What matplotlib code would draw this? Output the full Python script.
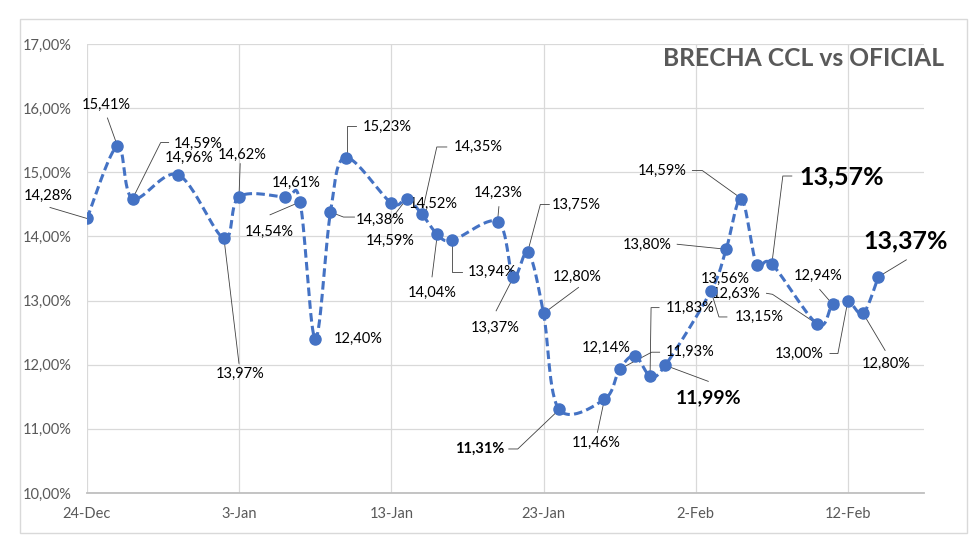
import numpy as np
import pandas as pd
import matplotlib
matplotlib.use('Agg')
import matplotlib.pyplot as plt
import matplotlib.dates as mdates
from matplotlib.ticker import FuncFormatter, MultipleLocator
from matplotlib.patches import Rectangle

plt.rcParams['font.family'] = ['Lato', 'DejaVu Sans']

# datos: brecha CCL vs oficial (%)
fechas = ['2024-12-24', '2024-12-26', '2024-12-27', '2024-12-30', '2025-01-02', '2025-01-03',
          '2025-01-06', '2025-01-07', '2025-01-08', '2025-01-09', '2025-01-10', '2025-01-13',
          '2025-01-14', '2025-01-15', '2025-01-16', '2025-01-17', '2025-01-20', '2025-01-21',
          '2025-01-22', '2025-01-23', '2025-01-24', '2025-01-27', '2025-01-28', '2025-01-29',
          '2025-01-30', '2025-01-31', '2025-02-03', '2025-02-04', '2025-02-05', '2025-02-06',
          '2025-02-07', '2025-02-10', '2025-02-11', '2025-02-12', '2025-02-13', '2025-02-14']
brecha = [14.28, 15.41, 14.59, 14.96, 13.97, 14.62,
          14.61, 14.54, 12.40, 14.38, 15.23, 14.52,
          14.59, 14.35, 14.04, 13.94, 14.23, 13.37,
          13.75, 12.80, 11.31, 11.46, 11.93, 12.14,
          11.83, 11.99, 13.15, 13.80, 14.59, 13.56,
          13.57, 12.63, 12.94, 13.00, 12.80, 13.37]
titulo = 'BRECHA CCL vs OFICIAL'

# posicion de etiquetas (offset en pixeles desde el punto) y lineas guia
label_off = [(-39, 23), (-11, 41), (66, 55), (11, 17), (16, -136), (3, 42),
             (11, 14), (-31, -30), (43, 0), (50, -8), (42, 31), (42, -1),
             (-16, -42), (56, 67), (-5, -59), (40, -32), (0, 29), (-18, -51),
             (48, 48), (34, 37), (-79, -40), (-8, -44), (70, 17), (-29, 8),
             (40, 68), (43, -32), (48, -26), (-79, 4), (-79, 28), (-31, -14),
             (70, 87), (-81, 30), (-15, 29), (-49, -53), (23, -50), (27, 36)]
leaders = {0: [(-37, 11), (0, 0)], 1: [(-10, 28), (0, 0)], 2: [(36, 56), (28, 56), (0, 0)],
           4: [(0, 0), (15, -125)], 5: [(1, 33), (0, 5)], 7: [(-30, -13), (-2, -1)],
           9: [(0, 0), (13, -5), (24, -5)], 10: [(1, 5), (1, 32), (10, 32)],
           12: [(-2, -3), (-15, -20)], 13: [(0, 0), (15, 67), (25, 67)],
           14: [(0, -3), (-5, -43)], 15: [(0, -3), (0, -32), (10, -32)],
           16: [(1, 15), (0, 4)], 17: [(0, -1), (-17, -34)], 18: [(0, 3), (12, 48), (21, 48)],
           19: [(0, 0), (35, 26)], 20: [(0, -1), (-41, -40), (-50, -40)],
           21: [(0, 0), (-7, -33)], 22: [(0, 0), (32, 17), (40, 17)],
           24: [(0, 0), (1, 68), (9, 68)], 25: [(0, 0), (43, -16)],
           26: [(0, 0), (8, -26), (16, -26)], 27: [(-49, 5), (0, 0)],
           28: [(-49, 28), (-39, 28), (0, 0)], 30: [(0, 0), (11, 88), (20, 88)],
           31: [(-51, 31), (-45, 30), (0, 0)], 32: [(-13, 15), (0, 0)],
           33: [(-18, -53), (-10, -53), (0, 0)], 34: [(22, -37), (0, 0)],
           35: [(28, 17), (0, 0)]}
# etiquetas destacadas (tamano, negrita)
destacadas = {20: 10.5, 25: 14, 30: 18, 35: 18}

azul = '#4472C4'
gris = '#595959'

x = mdates.date2num(pd.to_datetime(fechas))
y = np.array(brecha)

fig = plt.figure(figsize=(9.8, 5.54), dpi=100)
ax = fig.add_axes([87/980, 1-493/554, (924-87)/980, (493-44)/554])

ax.set_xlim(mdates.date2num(pd.Timestamp('2024-12-24')), mdates.date2num(pd.Timestamp('2025-02-17')))
ax.set_ylim(10, 17)
ax.yaxis.set_major_locator(MultipleLocator(1))
ax.yaxis.set_major_formatter(FuncFormatter(lambda v, p: f'{v:.2f}%'.replace('.', ',')))
ticks = mdates.date2num(pd.date_range('2024-12-24', '2025-02-17', freq='10D'))
ax.set_xticks(ticks)
ax.xaxis.set_major_formatter(mdates.DateFormatter('%-d-%b'))

ax.grid(True, color='#D9D9D9', lw=0.9)
ax.set_axisbelow(True)
for s in ['top', 'right', 'left']:
    ax.spines[s].set_visible(False)
ax.spines['bottom'].set_color('#BFBFBF')
ax.spines['bottom'].set_linewidth(1.3)
ax.tick_params(length=0, labelsize=10.5, labelcolor=gris)
ax.tick_params(axis='y', pad=11)
ax.tick_params(axis='x', pad=10)

# linea suavizada (bezier tipo Excel) en coordenadas de pantalla
pts = ax.transData.transform(np.column_stack([x, y]))
curva = []
n = len(pts)
for i in range(n - 1):
    p0 = pts[max(i - 1, 0)]
    p1 = pts[i]
    p2 = pts[i + 1]
    p3 = pts[min(i + 2, n - 1)]
    c1 = p1 + (p2 - p0) / 6
    c2 = p2 - (p3 - p1) / 6
    t = np.linspace(0, 1, 30)[:, None]
    seg = (1-t)**3*p1 + 3*(1-t)**2*t*c1 + 3*(1-t)*t**2*c2 + t**3*p2
    curva.append(seg)
curva = ax.transData.inverted().transform(np.vstack(curva))
ax.plot(curva[:, 0], curva[:, 1], color=azul, lw=2.2, linestyle=(0, (2.8, 1.4)), zorder=3)
ax.plot(x, y, 'o', color=azul, ms=8, zorder=4)

# etiquetas de datos
for i, v in enumerate(brecha):
    txt = f'{v:.2f}%'.replace('.', ',')
    dx, dy = label_off[i]
    if i in destacadas:
        ax.annotate(txt, (x[i], v), xytext=(dx, dy), textcoords='offset pixels',
                    ha='center', va='center', fontsize=destacadas[i], fontweight='bold', color='black')
    else:
        ax.annotate(txt, (x[i], v), xytext=(dx, dy), textcoords='offset pixels',
                    ha='center', va='center', fontsize=10.5, color='black')
    if i in leaders:
        base = pts[i]
        vert = np.array([[base[0] + a, base[1] + b] for a, b in leaders[i]])
        vd = ax.transData.inverted().transform(vert)
        ax.plot(vd[:, 0], vd[:, 1], color='#404040', lw=0.6, zorder=2, clip_on=False)

fig.text(944/980, 1-58/554, titulo, ha='right', va='center', fontsize=17.7,
         fontweight='bold', color=gris)
fig.patches.append(Rectangle((20/980, 1-533/554), (967-20)/980, (533-19)/554,
                             transform=fig.transFigure, fill=False, ec='#D9D9D9', lw=1))

fig.savefig('out.png', dpi=100)
